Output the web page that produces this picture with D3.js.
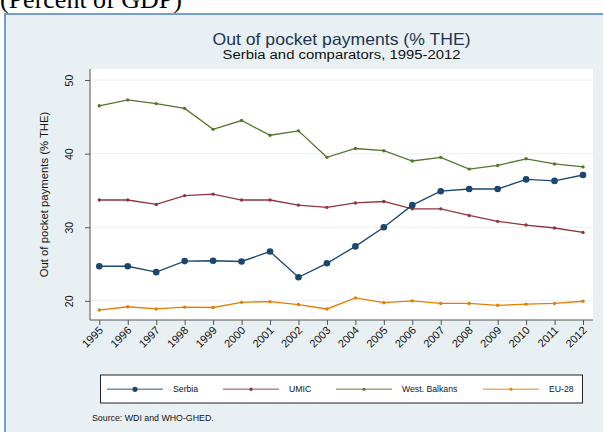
<!DOCTYPE html>
<html><head><meta charset="utf-8">
<script src="https://cdn.jsdelivr.net/npm/d3@7"></script>
<style>body{margin:0;background:#fff;}svg{display:block;font-family:Arial,"Liberation Sans",sans-serif;}</style>
</head><body><svg id="c" width="603" height="432"></svg>
<script>
const years = [1995,1996,1997,1998,1999,2000,2001,2002,2003,2004,2005,2006,2007,2008,2009,2010,2011,2012];
const serbia = [24.7,24.7,23.9,25.4,25.45,25.35,26.7,23.2,25.1,27.4,30.0,33.0,34.9,35.2,35.2,36.5,36.3,37.1];
const umic = [33.7,33.7,33.1,34.3,34.5,33.7,33.7,33.0,32.7,33.3,33.5,32.5,32.5,31.6,30.8,30.3,29.9,29.3];
const westBalkans = [46.5,47.3,46.8,46.15,43.3,44.5,42.5,43.1,39.5,40.7,40.4,39.0,39.5,37.9,38.4,39.3,38.6,38.2];
const eu28 = [18.75,19.2,18.9,19.15,19.1,19.8,19.9,19.5,18.9,20.4,19.75,20.0,19.65,19.65,19.4,19.55,19.65,19.95];
const yTicks = [20,30,40,50];
const seriesNames = ["Serbia","UMIC","West. Balkans","EU-28"];

const series = [
  {name:seriesNames[0], values:serbia, color:"#1a476f", r:3.3, lr:2.6},
  {name:seriesNames[1], values:umic, color:"#90353b", r:1.7, lr:1.7},
  {name:seriesNames[2], values:westBalkans, color:"#55752f", r:1.7, lr:1.5},
  {name:seriesNames[3], values:eu28, color:"#e37e00", r:1.7, lr:1.5}
];

const svg = d3.select("#c");
// top heading, cut off at the top edge as in the reference
svg.append("text").attr("x",0).attr("y",7.5).attr("font-family","'Liberation Serif','Times New Roman',serif")
  .attr("font-size",26).attr("fill","#000").text("(Percent of GDP)");
// outer panel
svg.append("rect").attr("x",5).attr("y",14).attr("width",604).attr("height",425)
  .attr("fill","#e9f0f3").attr("stroke","#4a7fc0").attr("stroke-width",1.5);

const L=90,R=593,T=69,B=320;
svg.append("rect").attr("x",L).attr("y",T).attr("width",R-L).attr("height",B-T).attr("fill","#fff");

const x = d3.scalePoint().domain(years).range([99.3,583]);
const y = d3.scaleLinear().domain([17.4,51.5]).range([B,T]);

// gridlines
svg.append("g").selectAll("line").data(yTicks).join("line")
  .attr("x1",L).attr("x2",R).attr("y1",d=>y(d)).attr("y2",d=>y(d))
  .attr("stroke","#eaf0f2").attr("stroke-width",1);

// y axis
const ya = svg.append("g").attr("transform",`translate(${L},0)`)
  .call(d3.axisLeft(y).tickValues(yTicks).tickSize(5).tickPadding(0).tickSizeOuter(0));
ya.select(".domain").attr("stroke","#555").attr("d",`M0,${T}V${B}`);
ya.selectAll(".tick line").attr("stroke","#555");
ya.selectAll(".tick text").attr("font-size",10.5).attr("fill","#111")
  .attr("transform","rotate(-90)").attr("x",0).attr("y",-17.5).attr("dy","0").attr("text-anchor","middle");

// x axis
const xa = svg.append("g").attr("transform",`translate(0,${B})`)
  .call(d3.axisBottom(x).tickSize(5).tickSizeOuter(0));
xa.select(".domain").attr("stroke","#555").attr("d",`M${L},0H${R}`);
xa.selectAll(".tick line").attr("stroke","#555");
xa.selectAll(".tick text").attr("font-size",11).attr("fill","#111")
  .attr("text-anchor","end").attr("dy","0").attr("y",0)
  .attr("transform","translate(4,11) rotate(-45)");

// y title
svg.append("text").attr("transform",`translate(48,${(T+B)/2}) rotate(-90)`)
  .attr("text-anchor","middle").attr("font-size",11.3).attr("fill","#111").text("Out of pocket payments (% THE)");

// titles
const cx = (L+R)/2;
svg.append("text").attr("x",cx).attr("y",44.5).attr("text-anchor","middle").attr("font-size",16.5)
  .attr("textLength",258).attr("lengthAdjust","spacingAndGlyphs")
  .attr("fill","#1e3551").text("Out of pocket payments (% THE)");
svg.append("text").attr("x",cx).attr("y",58.5).attr("text-anchor","middle").attr("font-size",12.5)
  .attr("textLength",238).attr("lengthAdjust","spacingAndGlyphs")
  .attr("fill","#111").text("Serbia and comparators, 1995-2012");

// lines
const line = d3.line().x((d,i)=>x(years[i])).y(d=>y(d));
const draw = [series[1],series[2],series[3],series[0]];
draw.forEach(s=>{
  svg.append("path").attr("d",line(s.values)).attr("fill","none").attr("stroke",s.color).attr("stroke-width",1.3);
  svg.append("g").selectAll("circle").data(s.values).join("circle")
    .attr("cx",(d,i)=>x(years[i])).attr("cy",d=>y(d)).attr("r",s.r).attr("fill",s.color);
});

// legend
svg.append("rect").attr("x",100.5).attr("y",375).attr("width",482).attr("height",28)
  .attr("fill","#fff").attr("stroke","#222").attr("stroke-width",1);
const lx = [107,223,336,483];
const ly = 389.3;
series.forEach((s,i)=>{
  svg.append("line").attr("x1",lx[i]).attr("x2",lx[i]+56).attr("y1",ly).attr("y2",ly)
    .attr("stroke",s.color).attr("stroke-width",1.4).attr("opacity",0.6);
  svg.append("circle").attr("cx",lx[i]+28).attr("cy",ly).attr("r",s.lr).attr("fill",s.color);
  svg.append("text").attr("x",lx[i]+66).attr("y",ly+3).attr("font-size",8.7).attr("fill","#111").text(s.name);
});
svg.append("text").attr("x",92).attr("y",421).attr("font-size",8.8).attr("fill","#111").text("Source: WDI and WHO-GHED.");
</script></body></html>
